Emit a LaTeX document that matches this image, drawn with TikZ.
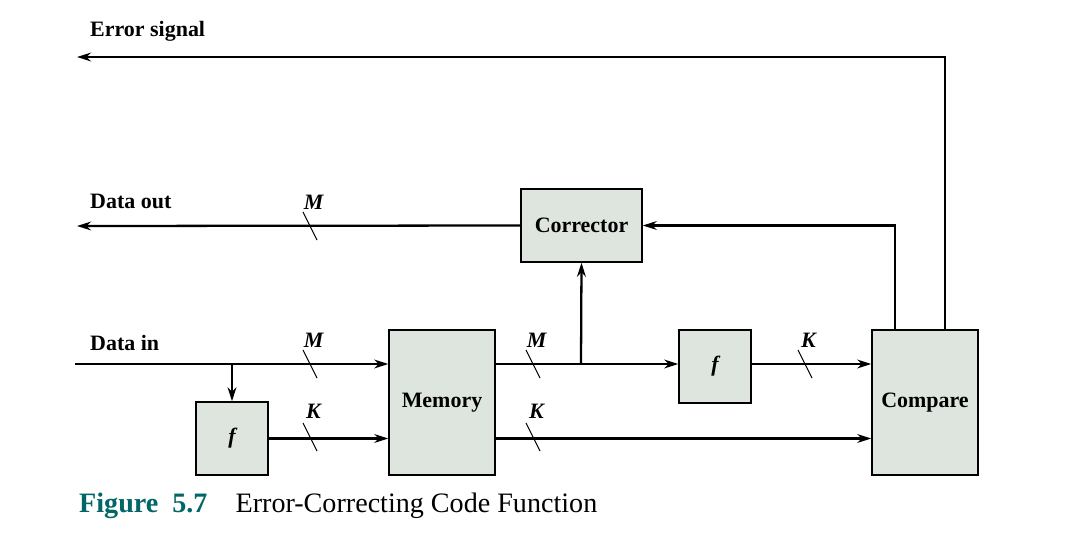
\documentclass[tikz,border=0pt]{standalone}
\usepackage{fontspec}
\setmainfont{Liberation Serif}
\usetikzlibrary{positioning,arrows.meta,calc}
\definecolor{boxfill}{RGB}{222,229,222}
\definecolor{capteal}{RGB}{0,102,102}
\tikzset{
  blk/.style={draw, line width=0.8pt, fill=boxfill, font=\bfseries\fontsize{12.5}{15}\selectfont},
  sig/.style={line width=1.3pt, -{Stealth[length=8pt,width=5pt]}},
  lbl/.style={font=\bfseries\fontsize{12.5}{15}\selectfont, anchor=west},
  bus/.style={font=\bfseries\itshape\fontsize{12.5}{15}\selectfont}
}
\newcommand{\busmark}[3]{% position, label
  \draw[line width=0.6pt] ($(#1)+(-4pt,8pt)$) -- ($(#1)+(4pt,-8pt)$);
  \node[bus] at ($(#1)+(2pt,#3)$) {#2};
}
\begin{document}
\begin{tikzpicture}[x=0.02cm,y=-0.02cm]
  \useasboundingbox (0,0) rectangle (1092,548);
  % blocks
  \node[blk, minimum width=2.42cm, minimum height=1.46cm] (corr) at (581.5,225.5) {Corrector};
  \node[blk, minimum width=2.12cm, minimum height=2.9cm] (mem) at (442,402.5) {Memory};
  \node[blk, minimum width=2.12cm, minimum height=2.9cm] (cmp) at (925,402.5) {Compare};
  \node[blk, minimum width=1.44cm, minimum height=1.46cm, font=\bfseries\itshape\fontsize{12.5}{15}\selectfont] (fin) at (232,438.5) {f};
  \node[blk, minimum width=1.44cm, minimum height=1.46cm, font=\bfseries\itshape\fontsize{12.5}{15}\selectfont] (fout) at (715,366.5) {f};
  % free ends
  \coordinate (errend) at (77,57);
  \coordinate (outend) at (77,226);
  \coordinate (inend) at (75,364);
  \coordinate (split) at (232,364);
  \coordinate (tap) at (581,364);
  % error signal
  \draw[sig] ($(cmp.north)+(11.3pt,0)$) |- (errend);
  \node[lbl] at (84,31) {Error signal};
  % data out
  \draw[sig] (corr.west) -- (outend);
  \node[lbl] at (84,201) {Data out};
  \busmark{310,226}{M}{13.5pt}
  % compare to corrector
  \draw[sig] ($(cmp.north)+(-17pt,0)$) |- (corr.east);
  % data in
  \draw[sig] (inend) -- (inend -| mem.west);
  \node[lbl] at (84,343) {Data in};
  \busmark{310,364}{M}{13.5pt}
  \draw[sig] (split) -- (fin.north);
  \draw[sig] (fin.east) -- (fin.east -| mem.west);
  \busmark{310,437}{K}{14.5pt}
  % memory outputs
  \draw[sig] (mem.east |- tap) -- (fout.west |- tap);
  \busmark{533,364}{M}{13.5pt}
  \draw[sig] (tap) -- (corr.south);
  \draw[sig] (fout.east |- tap) -- (cmp.west |- tap);
  \busmark{805,364}{K}{13.5pt}
  \draw[sig] (mem.east |- fin.east) -- (cmp.west |- fin.east);
  \busmark{533,437}{K}{14.5pt}
  % caption
  \node[anchor=west, font=\fontsize{16}{19}\selectfont] at (73,506)
    {{\color{capteal}\bfseries Figure\ \ 5.7}\quad Error-Correcting Code Function};
\end{tikzpicture}
\end{document}
